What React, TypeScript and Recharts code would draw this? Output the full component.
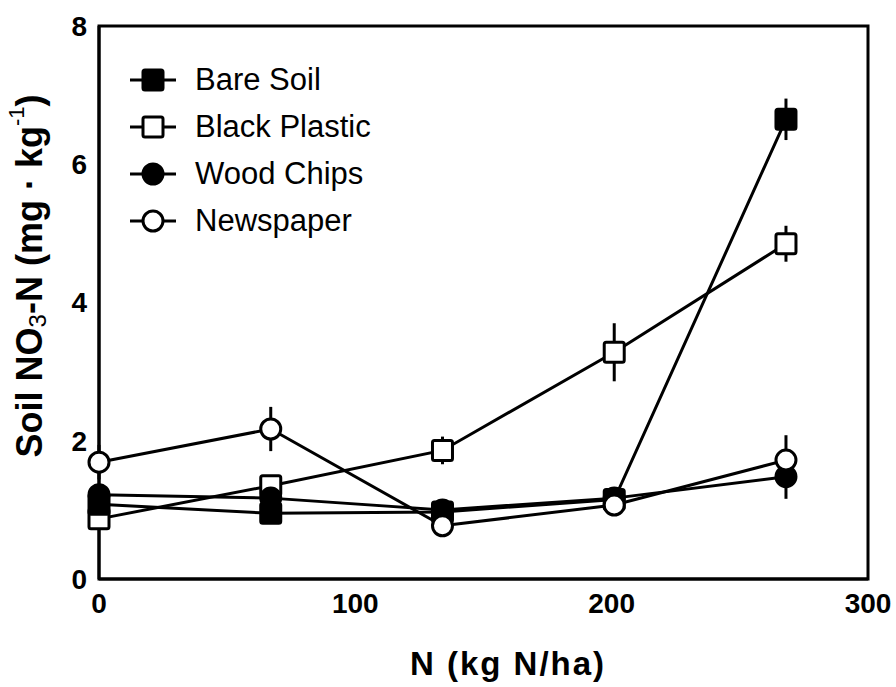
import React from 'react';
import { LineChart, Line, XAxis, YAxis, ErrorBar, ReferenceArea } from 'recharts';

const nRates = [0, 67, 134, 201, 268];
const bareSoil = [1.08, 0.95, 0.97, 1.15, 6.65];
const bareSoilErr = [0.1, 0.1, 0.1, 0.1, 0.3];
const blackPlastic = [0.87, 1.35, 1.86, 3.28, 4.85];
const blackPlasticErr = [0.1, 0.15, 0.2, 0.42, 0.26];
const woodChips = [1.22, 1.17, 1.0, 1.17, 1.48];
const woodChipsErr = [0.1, 0.1, 0.1, 0.1, 0.32];
const newspaper = [1.69, 2.17, 0.77, 1.07, 1.72];
const newspaperErr = [0.25, 0.32, 0.1, 0.1, 0.36];

const xTicks = [0, 100, 200, 300];
const yTicks = [0, 2, 4, 6, 8];

const seriesNames = ['Bare Soil', 'Black Plastic', 'Wood Chips', 'Newspaper'];

const data = nRates.map((n, i) => ({
  n,
  bare: bareSoil[i],
  bareErr: bareSoilErr[i],
  plastic: blackPlastic[i],
  plasticErr: blackPlasticErr[i],
  wood: woodChips[i],
  woodErr: woodChipsErr[i],
  paper: newspaper[i],
  paperErr: newspaperErr[i],
}));

const FONT = '"Liberation Sans", Arial, Helvetica, sans-serif';

type Shape = 'fsquare' | 'osquare' | 'fcircle' | 'ocircle';

const Marker = ({ cx, cy, shape }: { cx: number; cy: number; shape: Shape }) => {
  if (cx == null || cy == null) return null;
  if (shape === 'fsquare' || shape === 'osquare') {
    return (
      <rect
        x={cx - 10}
        y={cy - 10}
        width={20}
        height={20}
        rx={2}
        fill={shape === 'fsquare' ? '#000' : '#fff'}
        stroke="#000"
        strokeWidth={3}
      />
    );
  }
  return (
    <circle cx={cx} cy={cy} r={10} fill={shape === 'fcircle' ? '#000' : '#fff'} stroke="#000" strokeWidth={3} />
  );
};

const makeDot = (shape: Shape) => (props: any) => (
  <Marker key={`${shape}-${props.index}`} cx={props.cx} cy={props.cy} shape={shape} />
);

const legendShapes: Shape[] = ['fsquare', 'osquare', 'fcircle', 'ocircle'];

const LegendBox = () => (
  <div style={{ position: 'absolute', left: 128, top: 56, fontFamily: FONT, pointerEvents: 'none' }}>
    {seriesNames.map((name, i) => (
      <div key={name} style={{ display: 'flex', alignItems: 'center', height: 47 }}>
        <svg width={50} height={28} style={{ marginRight: 17 }}>
          <line x1={2} y1={14} x2={48} y2={14} stroke="#000" strokeWidth={3} />
          <Marker cx={25} cy={14} shape={legendShapes[i]} />
        </svg>
        <span style={{ fontSize: 31, color: '#000', lineHeight: '31px' }}>{name}</span>
      </div>
    ))}
  </div>
);

// y-axis title with NO3 subscript and kg-1 superscript
const renderYLabel = () => {
  const x = 29;
  const y = 276;
  return (
    <text
      x={x}
      y={y}
      transform={`rotate(-90 ${x} ${y})`}
      textAnchor="middle"
      dominantBaseline="central"
      fontFamily={FONT}
      fontWeight="bold"
      fontSize={36}
      fill="#000"
    >
      <tspan>Soil NO</tspan>
      <tspan fontSize={24} fontWeight="normal" dy={8}>3</tspan>
      <tspan dy={-8}>-N (mg · kg</tspan>
      <tspan fontSize={22} fontWeight="normal" dy={-13}>-1</tspan>
      <tspan dy={13}>)</tspan>
    </text>
  );
};

const renderXLabel = () => (
  <text
    x={508}
    y={675}
    textAnchor="middle"
    fontFamily={FONT}
    fontWeight="bold"
    fontSize={33}
    letterSpacing={2}
    fill="#000"
  >
    N (kg N/ha)
  </text>
);

const tickStyle = { fontFamily: FONT, fontWeight: 'bold', fontSize: 28, fill: '#000' };

export default function App() {
  return (
    <div style={{ position: 'absolute', left: 0, top: 0, width: 896, height: 687, background: '#fff' }}>
      <LineChart width={896} height={687} data={data} margin={{ top: 26, right: 28, bottom: 0, left: 0 }}>
        <XAxis
          dataKey="n"
          type="number"
          domain={[0, 300]}
          ticks={xTicks}
          tickLine={false}
          tickSize={0}
          tickMargin={14}
          height={108}
          axisLine={{ stroke: '#000', strokeWidth: 3 }}
          tick={tickStyle}
          label={{ content: renderXLabel }}
        />
        <YAxis
          type="number"
          domain={[0, 8]}
          ticks={yTicks}
          tickLine={false}
          tickSize={0}
          tickMargin={12}
          width={99}
          axisLine={{ stroke: '#000', strokeWidth: 3 }}
          tick={tickStyle}
          label={{ content: renderYLabel }}
        />
        <ReferenceArea x1={0} x2={300} y1={0} y2={8} fill="none" stroke="#000" strokeWidth={3} ifOverflow="visible" />
        <Line
          dataKey="plastic"
          name="Black Plastic"
          stroke="#000"
          strokeWidth={3}
          isAnimationActive={false}
          dot={makeDot('osquare')}
          activeDot={false}
        >
          <ErrorBar dataKey="plasticErr" width={0} stroke="#000" strokeWidth={3} direction="y" />
        </Line>
        <Line
          dataKey="bare"
          name="Bare Soil"
          stroke="#000"
          strokeWidth={3}
          isAnimationActive={false}
          dot={makeDot('fsquare')}
          activeDot={false}
        >
          <ErrorBar dataKey="bareErr" width={0} stroke="#000" strokeWidth={3} direction="y" />
        </Line>
        <Line
          dataKey="wood"
          name="Wood Chips"
          stroke="#000"
          strokeWidth={3}
          isAnimationActive={false}
          dot={makeDot('fcircle')}
          activeDot={false}
        >
          <ErrorBar dataKey="woodErr" width={0} stroke="#000" strokeWidth={3} direction="y" />
        </Line>
        <Line
          dataKey="paper"
          name="Newspaper"
          stroke="#000"
          strokeWidth={3}
          isAnimationActive={false}
          dot={makeDot('ocircle')}
          activeDot={false}
        >
          <ErrorBar dataKey="paperErr" width={0} stroke="#000" strokeWidth={3} direction="y" />
        </Line>
      </LineChart>
      <LegendBox />
    </div>
  );
}
